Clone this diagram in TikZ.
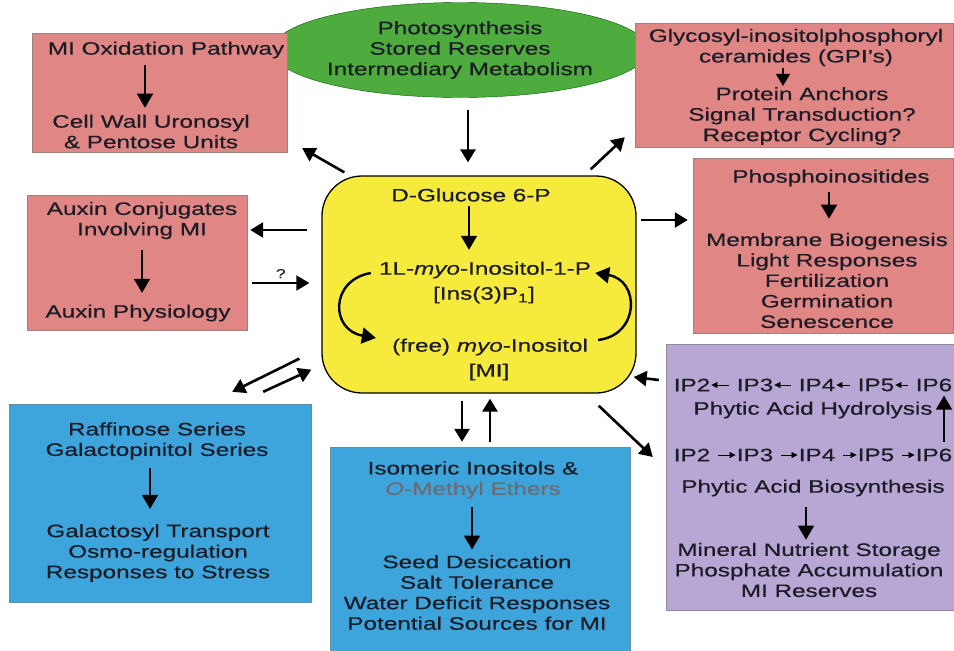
\documentclass[tikz,border=0pt]{standalone}
\usepackage{fontspec}
\setmainfont[FakeStretch=1.35,FakeBold=0.4]{Liberation Sans}
\usetikzlibrary{arrows.meta,shapes.geometric}

\definecolor{srcgreen}{RGB}{78,172,62}
\definecolor{coreyellow}{RGB}{246,234,60}
\definecolor{salmon}{RGB}{224,134,132}
\definecolor{skyblue}{RGB}{62,164,220}
\definecolor{lilac}{RGB}{184,166,212}
\definecolor{ink}{RGB}{28,28,38}

\begin{document}
\begin{tikzpicture}[x=1pt,y=-1pt,
    every node/.style={inner sep=0pt, text=ink},
    lbl/.style={align=center, font=\fontsize{18}{20.5}\selectfont},
    pinkbox/.style={draw=gray!70!salmon, fill=salmon},
    bluebox/.style={draw=gray!60!skyblue, fill=skyblue},
    lilacbox/.style={draw=gray!70!lilac, fill=lilac},
    corebox/.style={draw=black, line width=1.3pt, fill=coreyellow, rounded corners=40pt},
    flow/.style={-{Triangle[length=13pt,width=15pt]}, line width=2.6pt},
    inarr/.style={-{Triangle[length=14pt,width=16pt]}, line width=1.6pt},
    iparr/.style={-{Triangle[length=6pt,width=6pt]}, line width=0.8pt, shorten <=8pt, shorten >=1pt}]

    \useasboundingbox (0,0) rectangle (954,651);

    % boxes
    \node (src)[ellipse, draw=green!35!black, fill=srcgreen, minimum width=294pt, minimum height=95pt, lbl] at (460,50)
        {Photosynthesis\\Stored Reserves\\Intermediary Metabolism};
    \node (core)[corebox, minimum width=314pt, minimum height=217pt] at (479,284.5) {};
    \node (ox)[pinkbox, minimum width=255pt, minimum height=119pt] at (159.5,92.5) {};
    \node (aux)[pinkbox, minimum width=220pt, minimum height=135pt] at (137,262.5) {};
    \node (gpi)[pinkbox, minimum width=318pt, minimum height=124pt] at (794,85) {};
    \node (pho)[pinkbox, minimum width=260pt, minimum height=175pt] at (823,245.5) {};
    \node (raf)[bluebox, minimum width=302pt, minimum height=198pt] at (160,503) {};
    \node (iso)[bluebox, minimum width=300pt, minimum height=216pt] at (480,555) {};
    \node (phy)[lilacbox, minimum width=296pt, minimum height=266pt] at (814,477) {};

    % texts
    \node (glc)[lbl] at (471,195) {D-Glucose 6-P};
    \node (ip1)[lbl] at (485,270) {1L-\textit{myo}-Inositol-1-P};
    \node (ins)[lbl] at (484,295) {[Ins(3)P\textsubscript{1}]};
    \node (mi)[lbl]  at (490,347) {(free) \textit{myo}-Inositol};
    \node (mib)[lbl] at (489,372) {[MI]};

    \node (ox1)[lbl] at (166,50) {MI Oxidation Pathway};
    \node (ox2)[lbl] at (151,131.5) {Cell Wall Uronosyl\\\& Pentose Units};
    \node (aux1)[lbl] at (142,220.5) {Auxin Conjugates\\Involving MI};
    \node (aux2)[lbl] at (138,313) {Auxin Physiology};
    \node (gpi1)[lbl] at (796,47.5) {Glycosyl-inositolphosphoryl\\ceramides (GPI's)};
    \node (gpi2)[lbl] at (802,116) {Protein Anchors\\Signal Transduction?\\Receptor Cycling?};
    \node (pho1)[lbl] at (831,178) {Phosphoinositides};
    \node (pho2)[lbl] at (827,280.5) {Membrane Biogenesis\\Light Responses\\Fertilization\\Germination\\Senescence};
    \node (raf1)[lbl] at (157,441) {Raffinose Series\\Galactopinitol Series};
    \node (raf2)[lbl] at (158,553) {Galactosyl Transport\\Osmo-regulation\\Responses to Stress};
    \node (iso1)[lbl] at (473,480) {Isomeric Inositols \&\\{\color{ink!65}\textit{O}-Methyl Ethers}};
    \node (iso2)[lbl] at (477,592.5) {Seed Desiccation\\Salt Tolerance\\Water Deficit Responses\\Potential Sources for MI};

    \foreach \n/\x in {2/692,3/755,4/817,5/876,6/934} {
      \node (a\n)[lbl] at (\x,385) {IP\n};
      \node (b\n)[lbl] at (\x,455) {IP\n};
    }
    \node (hyd)[lbl] at (813,410) {Phytic Acid Hydrolysis};
    \node (bio)[lbl] at (813,488) {Phytic Acid Biosynthesis};
    \node (stor)[lbl] at (809,570) {Mineral Nutrient Storage\\Phosphate Accumulation\\MI Reserves};

    % arrows inside the boxes
    \draw[inarr, shorten <=4.6pt, shorten >=11.6pt] ([xshift=-2pt]glc.south) -- ([xshift=-2pt]glc.south |- ip1.north);
    \draw[inarr, line width=2.4pt] ([shift={(-8,3)}]ip1.west) .. controls (330,280) and (330,330) .. ([shift={(-16,-9)}]mi.west);
    \draw[inarr, line width=2.4pt] ([shift={(10,-7)}]mi.east) .. controls (640,335) and (640,280) .. ([shift={(4,3)}]ip1.east);
    \draw[inarr, shorten <=6.6pt, shorten >=6.7pt] ([xshift=-21pt]ox1.south) -- ([xshift=-6pt]ox2.north);
    \draw[inarr, shorten <=11pt, shorten >=11.6pt] (aux1.south) -- ([xshift=4pt]aux2.north);
    \draw[inarr, line width=1.3pt, -{Triangle[length=12pt,width=14pt]}, shorten <=2pt, shorten >=1pt] ([xshift=-13pt]gpi1.south) -- ([xshift=-19pt]gpi2.north);
    \draw[inarr, shorten <=5.6pt, shorten >=14pt] ([xshift=-2pt]pho1.south) -- ([xshift=2pt]pho2.north);
    \draw[inarr, shorten <=8.4pt, shorten >=15pt] ([xshift=-7pt]raf1.south) -- ([xshift=-8pt]raf2.north);
    \draw[inarr, shorten <=8.4pt, shorten >=5.4pt] ([xshift=-1pt]iso1.south) -- ([xshift=-5pt]iso2.north);
    \draw[inarr, shorten <=10.6pt, shorten >=3pt] ([xshift=-7pt]bio.south) -- ([xshift=-3pt]stor.north);
    \draw[inarr, shorten <=6pt, shorten >=4pt] ([xshift=10pt]b6.north) -- ([xshift=10pt]a6.south);
    \foreach \p/\q in {2/3,3/4,4/5,5/6} {
      \draw[iparr] (a\q) -- (a\p);
      \draw[iparr] (b\p) -- (b\q);
    }

    % arrows between the boxes
    \draw[flow] ([xshift=8pt]src.south) ++(0,12) -- ([shift={(-11,-13)}]core.north);
    \draw[flow] ([shift={(23,-3)}]core.north west) -- ([shift={(15,-4)}]ox.south east);
    \draw[flow] ([shift={(-14,-54.5)}]core.west) -- ([shift={(3,-32.5)}]aux.east);
    \draw[flow, line width=1.8pt] ([shift={(5,20.5)}]aux.east) -- node[above=4pt, font=\fontsize{13}{13}\selectfont] (qm) {?} ([shift={(-12,-1.5)}]core.west);
    \draw[flow] ([shift={(-46,-6)}]core.north east) -- ([shift={(-10,-10)}]gpi.south west);
    \draw[flow] ([shift={(4,-64.5)}]core.east) -- ([shift={(-5,-25.5)}]pho.west);
    \draw[flow] ([shift={(-7,-97)}]phy.west) -- ([shift={(-3,92.5)}]core.east);
    \draw[flow] ([shift={(-38,12)}]core.south east) -- ([shift={(-13,-20)}]phy.west);
    \draw[flow] ([shift={(-22,-35)}]core.south west) -- ([shift={(-79,-12)}]raf.north east);
    \draw[flow] ([shift={(-48,-12)}]raf.north east) -- ([shift={(-10,-24)}]core.south west);
    \draw[flow] ([shift={(-17,7)}]core.south) -- ([shift={(-18,-5)}]iso.north);
    \draw[flow] ([shift={(10,-5)}]iso.north) -- ([shift={(11,5)}]core.south);
\end{tikzpicture}
\end{document}
